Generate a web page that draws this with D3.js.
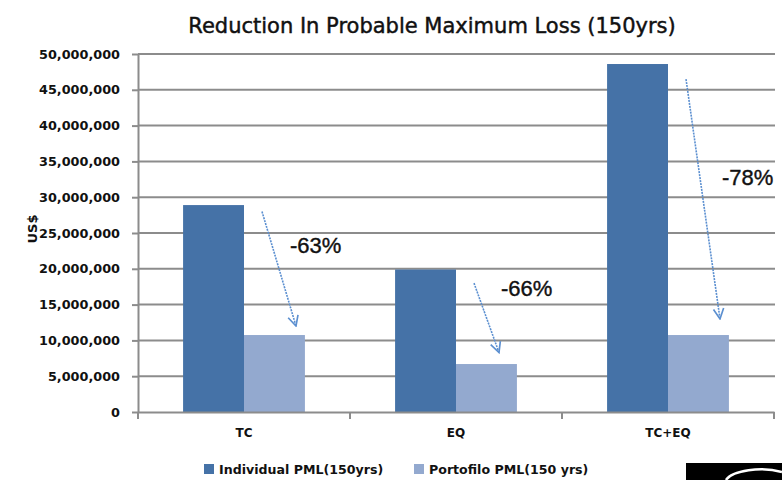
<!DOCTYPE html>
<html>
<head>
<meta charset="utf-8">
<script src="https://cdn.jsdelivr.net/npm/d3@7"></script>
<style>
  html, body { margin: 0; padding: 0; background: #fff; }
  svg { display: block; font-family: "DejaVu Sans", sans-serif; }
</style>
</head>
<body>
<svg id="chart" width="782" height="480"></svg>
<script>
// Categories and PML values (US$)
const categories = ["TC", "EQ", "TC+EQ"];
const seriesNames = ["Individual PML(150yrs)", "Portofilo PML(150 yrs)"];
const individualPML = [28900000, 19900000, 48600000];
const portfolioPML = [10750000, 6700000, 10750000];
const reductionLabels = ["-63%", "-66%", "-78%"];
const yTicks = [0, 5000000, 10000000, 15000000, 20000000, 25000000, 30000000, 35000000, 40000000, 45000000, 50000000];

const colors = ["#4572a7", "#93a9cf"];
const svg = d3.select("#chart");
const margin = { left: 138, right: 8, top: 54, bottom: 68 };
const W = 782, H = 480;

const x = d3.scaleBand().domain(categories).range([margin.left, W - margin.right]);
const inner = d3.scaleBand().domain([0, 1]).range([0, x.bandwidth()]).paddingOuter(0.74).paddingInner(0);
const y = d3.scaleLinear().domain([0, 50000000]).range([H - margin.bottom, margin.top]);

// Title
svg.append("text")
  .attr("x", 432).attr("y", 33)
  .attr("text-anchor", "middle")
  .attr("font-size", 21)
  .attr("stroke", "#111").attr("stroke-width", 0.45)
  .attr("fill", "#111")
  .text("Reduction In Probable Maximum Loss (150yrs)");

// Gridlines
svg.append("g").selectAll("line").data(yTicks.filter(d => d > 0)).join("line")
  .attr("x1", margin.left).attr("x2", W - margin.right + 1)
  .attr("y1", d => y(d)).attr("y2", d => y(d))
  .attr("stroke", "#8c8c8c").attr("stroke-width", 2);

// Y axis
const yAxis = d3.axisLeft(y).tickValues(yTicks).tickFormat(d3.format(",")).tickSizeInner(6).tickSizeOuter(0).tickPadding(12);
const gy = svg.append("g").attr("transform", `translate(${margin.left},0)`).call(yAxis);
gy.select(".domain").attr("stroke", "#8c8c8c").attr("stroke-width", 2);
gy.selectAll(".tick line").attr("stroke", "#8c8c8c").attr("stroke-width", 2);
gy.selectAll(".tick text")
  .attr("font-family", "DejaVu Sans, sans-serif")
  .attr("font-size", 12.8).attr("font-weight", "bold").attr("fill", "#111");

// Y axis title
svg.append("text")
  .attr("transform", "translate(37,229) rotate(-90)")
  .attr("text-anchor", "middle")
  .attr("font-size", 13).attr("font-weight", "bold").attr("fill", "#111")
  .text("US$");

// Bars
const groups = svg.append("g").selectAll("g").data(categories).join("g")
  .attr("transform", d => `translate(${x(d)},0)`);
groups.selectAll("rect")
  .data((d, i) => [individualPML[i], portfolioPML[i]])
  .join("rect")
  .attr("x", (d, j) => inner(j))
  .attr("width", inner.bandwidth())
  .attr("y", d => y(d))
  .attr("height", d => y(0) - y(d))
  .attr("fill", (d, j) => colors[j]);

// X axis
const xAxis = d3.axisBottom(x).tickSize(0).tickPadding(16);
const gx = svg.append("g").attr("transform", `translate(0,${y(0)})`).call(xAxis);
gx.select(".domain").attr("stroke", "#8c8c8c").attr("stroke-width", 2);
gx.selectAll(".tick text")
  .attr("font-family", "DejaVu Sans, sans-serif")
  .attr("font-size", 12).attr("font-weight", "bold").attr("fill", "#111");
const bounds = categories.map(c => x(c)).concat([x(categories[categories.length - 1]) + x.bandwidth()]);
gx.append("g").selectAll("line").data(bounds).join("line")
  .attr("x1", d => d).attr("x2", d => d)
  .attr("y1", 0).attr("y2", 7)
  .attr("stroke", "#8c8c8c").attr("stroke-width", 2);

// Reduction arrows: from individual bar top area down to portfolio bar
const defs = svg.append("defs");
defs.append("marker")
  .attr("id", "arrowhead")
  .attr("viewBox", "0 0 10 10").attr("refX", 9).attr("refY", 5)
  .attr("markerWidth", 8).attr("markerHeight", 8)
  .attr("orient", "auto")
  .append("path")
  .attr("d", "M1,1 L9,5 L1,9")
  .attr("fill", "none").attr("stroke", "#5b8fd0").attr("stroke-width", 1.3);

const arrowStartVal = [28000000, 18000000, 46500000];
const arrowEndVal = [12000000, 8300000, 13000000];
const arrowX0 = categories.map(c => x(c) + inner(1) + 18);
const arrowX1 = [x("TC") + inner(1) + 52, x("EQ") + inner(1) + 43, x("TC+EQ") + inner(1) + 52];
svg.append("g").selectAll("line").data(categories).join("line")
  .attr("x1", (d, i) => arrowX0[i])
  .attr("y1", (d, i) => y(arrowStartVal[i]))
  .attr("x2", (d, i) => arrowX1[i])
  .attr("y2", (d, i) => y(arrowEndVal[i]))
  .attr("stroke", "#5b8fd0").attr("stroke-width", 1.6)
  .attr("stroke-dasharray", "2,1")
  .attr("marker-end", "url(#arrowhead)");

// Reduction labels
const labelPos = [[290, 22200000], [501, 16200000], [722, 31700000]];
svg.append("g").selectAll("text").data(reductionLabels).join("text")
  .attr("x", (d, i) => labelPos[i][0])
  .attr("y", (d, i) => y(labelPos[i][1]))
  .attr("font-family", "Liberation Sans, Arial, sans-serif")
  .attr("font-size", 22).attr("fill", "#111")
  .attr("stroke", "#111").attr("stroke-width", 0.4)
  .text(d => d);

// Legend
const legendX = [204, 414];
const lg = svg.append("g").selectAll("g").data(seriesNames).join("g")
  .attr("transform", (d, i) => `translate(${legendX[i]},464)`);
lg.append("rect").attr("width", 10).attr("height", 10).attr("fill", (d, i) => colors[i]);
lg.append("text").attr("x", 15).attr("y", 9.5)
  .attr("font-size", 12.6).attr("font-weight", "bold").attr("fill", "#111")
  .text(d => d);

// Corner badge
svg.append("rect").attr("x", 686).attr("y", 463).attr("width", 96).attr("height", 17).attr("fill", "#000");
svg.append("path")
  .attr("d", "M 726 480 A 36 14 0 0 1 782 472")
  .attr("fill", "none").attr("stroke", "#fff").attr("stroke-width", 2.5);
</script>
</body>
</html>
